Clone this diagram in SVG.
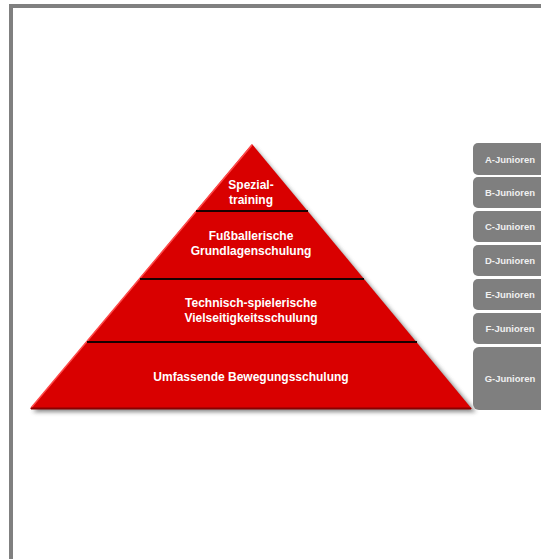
<svg xmlns="http://www.w3.org/2000/svg" width="541" height="559" viewBox="0 0 541 559">
  <defs>
    <filter id="soft" x="-10%" y="-10%" width="130%" height="130%">
      <feGaussianBlur stdDeviation="2"/>
    </filter>
  </defs>
  <style>
    .lvl { fill: #d90000; }
    .sep { stroke: #1a0000; stroke-width: 2; fill: none; }
    .ptxt { font-family: "Liberation Sans", Arial, sans-serif; font-weight: bold; font-size: 12px; fill: #ffffff; text-anchor: middle; }
    .box { fill: #7f7f7f; }
    .btxt { font-family: "Liberation Sans", Arial, sans-serif; font-weight: bold; font-size: 9.5px; fill: #f0f0f0; text-anchor: middle; }
  </style>

  <rect width="541" height="559" fill="#ffffff"/>
  <!-- page frame -->
  <rect x="11" y="6" width="560" height="580" fill="none" stroke="#808080" stroke-width="4"/>

  <!-- pyramid shadow -->
  <polygon points="254,147 476,412 33,412" fill="#555" opacity="0.7" filter="url(#soft)"/>

  <g id="pyramid">
    <polygon class="lvl" points="252,144 472,409 30,409"/>
    <!-- lit left edge and dark base edge -->
    <line x1="252" y1="145" x2="31" y2="408" stroke="#ff4a4a" stroke-width="1.5"/>
    <line x1="31" y1="408.5" x2="471" y2="408.5" stroke="#8a0000" stroke-width="2"/>
  </g>

  <g id="connectors">
    <line class="sep" x1="196" y1="211" x2="308" y2="211"/>
    <line class="sep" x1="140" y1="279" x2="364" y2="279"/>
    <line class="sep" x1="87" y1="342" x2="417" y2="342"/>
  </g>

  <g id="level-spezial">
    <text class="ptxt" x="251" y="189">Spezial-</text>
    <text class="ptxt" x="251" y="204">training</text>
  </g>
  <g id="level-grundlagen">
    <text class="ptxt" x="251" y="240">Fußballerische</text>
    <text class="ptxt" x="251" y="255">Grundlagenschulung</text>
  </g>
  <g id="level-vielseitigkeit">
    <text class="ptxt" x="251" y="307">Technisch-spielerische</text>
    <text class="ptxt" x="251" y="322">Vielseitigkeitsschulung</text>
  </g>
  <g id="level-bewegung">
    <text class="ptxt" x="251" y="381">Umfassende Bewegungsschulung</text>
  </g>

  <g id="box-a"><rect class="box" x="473" y="143" width="80" height="32" rx="5"/><text class="btxt" x="510" y="162.5">A-Junioren</text></g>
  <g id="box-b"><rect class="box" x="473" y="177" width="80" height="31" rx="5"/><text class="btxt" x="510" y="196">B-Junioren</text></g>
  <g id="box-c"><rect class="box" x="473" y="211" width="80" height="31" rx="5"/><text class="btxt" x="510" y="230">C-Junioren</text></g>
  <g id="box-d"><rect class="box" x="473" y="245" width="80" height="31" rx="5"/><text class="btxt" x="510" y="264">D-Junioren</text></g>
  <g id="box-e"><rect class="box" x="473" y="279" width="80" height="31" rx="5"/><text class="btxt" x="510" y="298">E-Junioren</text></g>
  <g id="box-f"><rect class="box" x="473" y="313" width="80" height="31" rx="5"/><text class="btxt" x="510" y="332">F-Junioren</text></g>
  <g id="box-g"><rect class="box" x="473" y="347" width="80" height="63" rx="6"/><text class="btxt" x="510" y="382">G-Junioren</text></g>
</svg>
